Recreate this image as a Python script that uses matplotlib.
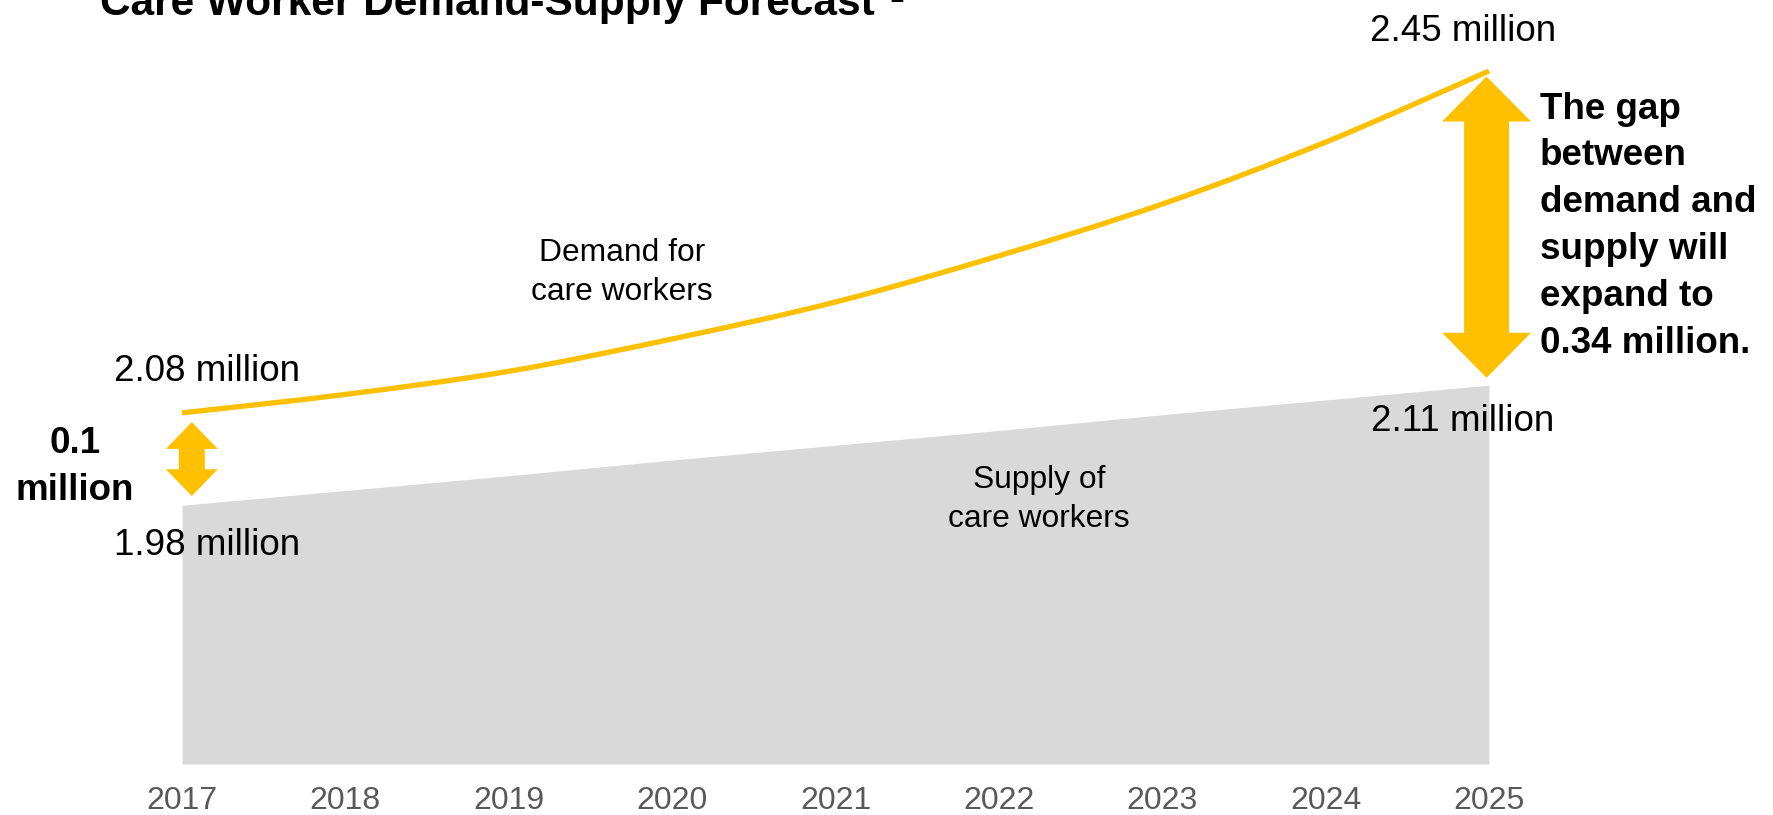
import matplotlib.pyplot as plt
from matplotlib.patches import Polygon, PathPatch
from matplotlib.path import Path

plt.rcParams['font.family'] = ['Liberation Sans', 'DejaVu Sans']

# data (million care workers)
years = [2017, 2018, 2019, 2020, 2021, 2022, 2023, 2024, 2025]
demand = [2.08, 2.10, 2.125, 2.16, 2.20, 2.25, 2.306, 2.373, 2.45]
supply = [1.98, 1.996, 2.012, 2.029, 2.045, 2.061, 2.078, 2.094, 2.11]
year_labels = [str(y) for y in years]

YELLOW = '#FFC000'
GRAY = '#D9D9D9'


def smooth_path(xs, ys):
    # Catmull-Rom style bezier through the points (like a smoothed line in Excel)
    n = len(xs)
    verts = [(xs[0], ys[0])]
    codes = [Path.MOVETO]
    for i in range(n - 1):
        x0, y0 = xs[max(i - 1, 0)], ys[max(i - 1, 0)]
        x1, y1 = xs[i], ys[i]
        x2, y2 = xs[i + 1], ys[i + 1]
        x3, y3 = xs[min(i + 2, n - 1)], ys[min(i + 2, n - 1)]
        verts += [(x1 + (x2 - x0) / 6, y1 + (y2 - y0) / 6),
                  (x2 - (x3 - x1) / 6, y2 - (y3 - y1) / 6),
                  (x2, y2)]
        codes += [Path.CURVE4] * 3
    return Path(verts, codes)


def double_arrow(ax, x, y0, y1, shaft, head_w, head_len):
    # vertical block arrow with heads at both ends (x units = years, y units = million)
    pts = [
        (x, y1),
        (x + head_w / 2, y1 - head_len),
        (x + shaft / 2, y1 - head_len),
        (x + shaft / 2, y0 + head_len),
        (x + head_w / 2, y0 + head_len),
        (x, y0),
        (x - head_w / 2, y0 + head_len),
        (x - shaft / 2, y0 + head_len),
        (x - shaft / 2, y1 - head_len),
        (x - head_w / 2, y1 - head_len),
    ]
    ax.add_patch(Polygon(pts, closed=True, facecolor=YELLOW, edgecolor='none', clip_on=False))


fig = plt.figure(figsize=(17.74, 8.15), dpi=100)
ax = fig.add_axes([182 / 1774, 51 / 815, 1307 / 1774, 693 / 815])

ax.fill_between(years, 1.70, supply, color=GRAY, lw=0)
ax.add_patch(PathPatch(smooth_path(years, demand), fill=False, edgecolor=YELLOW, lw=3.8,
                       capstyle='butt', clip_on=False))

ax.set_xlim(years[0], years[-1])
ax.set_ylim(1.70, 2.45)
ax.set_xticks(years, year_labels)
ax.set_yticks([])
ax.tick_params(axis='x', length=0, pad=16, labelsize=23, labelcolor='#595959')
for s in ax.spines.values():
    s.set_visible(False)

# value labels
ax.text(years[0] + 0.151, demand[0] + 0.035, f'{demand[0]:.2f} million', ha='center', va='baseline', fontsize=26.5)
ax.text(years[0] + 0.152, supply[0] - 0.054, f'{supply[0]:.2f} million', ha='center', va='baseline', fontsize=26.5)
ax.text(years[-1] - 0.16, demand[-1] + 0.033, f'{demand[-1]:.2f} million', ha='center', va='baseline', fontsize=26.5)
ax.text(years[-1] - 0.16, supply[-1] - 0.0495, f'{supply[-1]:.2f} million', ha='center', va='baseline', fontsize=26.5)

# series labels (y = baseline of the last line)
ax.text(2019.693, 2.2023, 'Demand for\ncare workers', ha='center', va='baseline', fontsize=22.9, linespacing=1.39)
ax.text(2022.246, 1.9566, 'Supply of\ncare workers', ha='center', va='baseline', fontsize=22.9, linespacing=1.39)

# gap arrows and notes
double_arrow(ax, years[0] + 0.06, supply[0] + 0.01, demand[0] - 0.01, 0.159, 0.318, 0.029)
double_arrow(ax, years[-1] - 0.015, supply[-1] + 0.008, demand[-1] - 0.006, 0.275, 0.545, 0.0487)

gap_start = demand[0] - supply[0]
gap_end = demand[-1] - supply[-1]
ax.text(2016.345, 1.9858, f'{gap_start:.1f}\nmillion', ha='center', va='baseline',
        fontsize=26.5, weight='bold', linespacing=1.44)
ax.text(2025.312, 2.1449,
        f'The gap\nbetween\ndemand and\nsupply will\nexpand to\n{gap_end:.2f} million.',
        ha='left', va='baseline', fontsize=26.5, weight='bold', linespacing=1.44)

# title, cut off at the top edge as in the source
fig.text(100 / 1774, 1 - 15 / 815, 'Care Worker Demand-Supply Forecast', fontsize=30.5,
         weight='bold', va='baseline')
fig.text(889 / 1774, 1 - 2 / 815, '1', fontsize=18, weight='bold', va='baseline')

fig.savefig('out.png', dpi=100)
